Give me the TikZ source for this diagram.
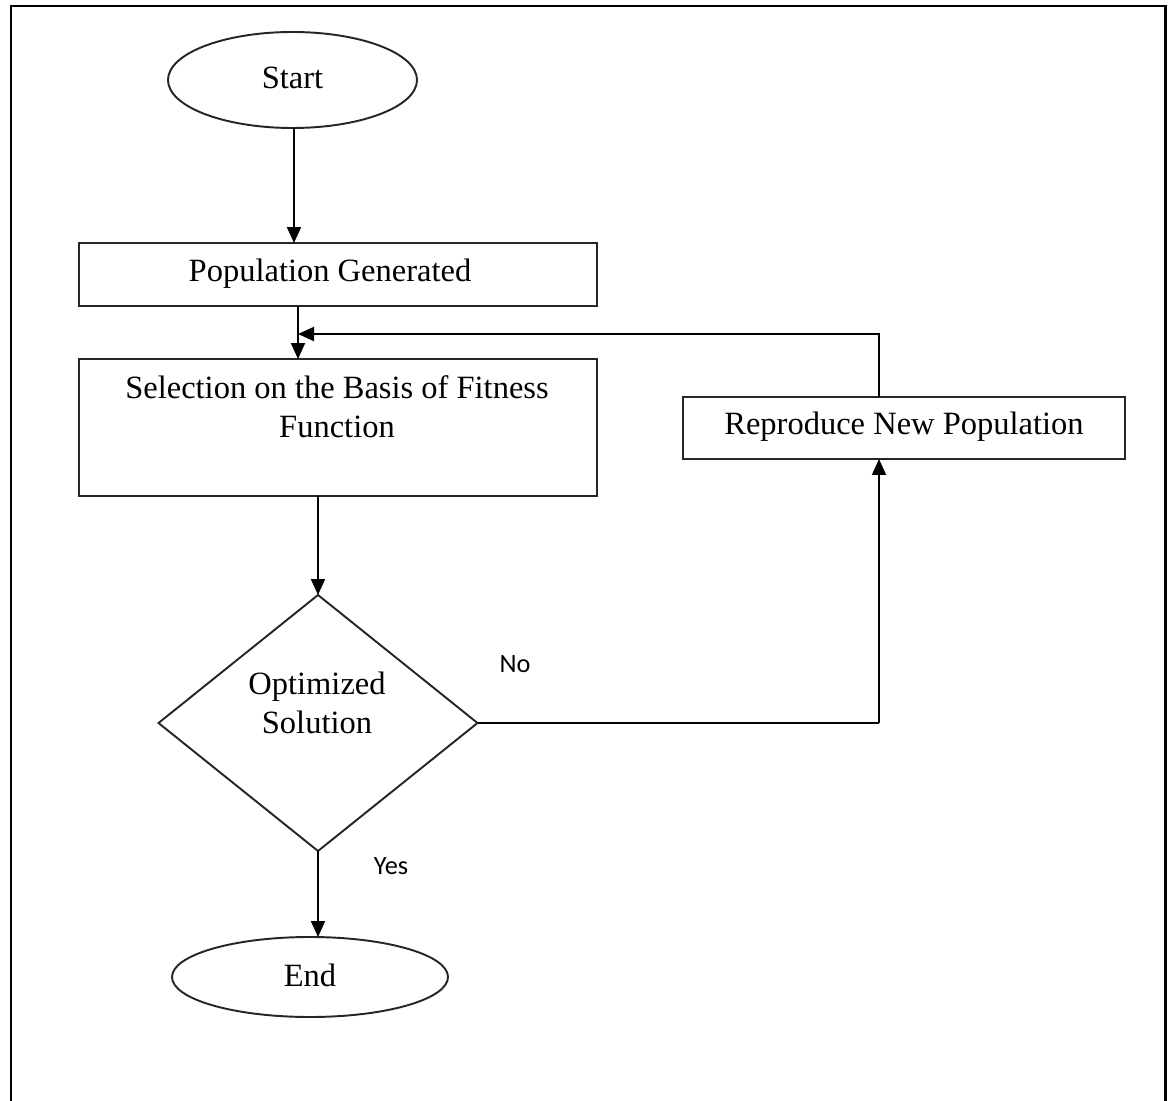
\documentclass[tikz,border=0pt]{standalone}
\usepackage{fontspec}
\setmainfont{Liberation Serif}
\newfontfamily\calib{Carlito}
\usetikzlibrary{shapes.geometric,arrows.meta,calc}
\begin{document}
\begin{tikzpicture}[x=0.02cm,y=-0.02cm,
  every node/.style={inner sep=0pt, outer sep=0pt},
  ln/.style={line width=1.1pt, draw=black!85},
  arr/.style={line width=1.1pt, draw=black, -{Triangle[length=0.32cm,width=0.28cm]}},
  boxst/.style={ln, rectangle},
  txt/.style={font=\fontsize{18.5pt}{22pt}\selectfont, align=center},
  lbl/.style={font=\calib\fontsize{15pt}{18pt}\selectfont}]
\useasboundingbox (0,0) rectangle (1173,1101);
\fill[white] (0,0) rectangle (1173,1101);
\draw[line width=1.7pt] (11,1120) -- (11,6) -- (1165,6) -- (1165,1120);
% nodes
\node[ellipse, ln, minimum width=249*0.02cm, minimum height=96*0.02cm] (start) at (292.5,80) {};
\node[txt] (starttxt) at (292.5,78) {Start};
\node[boxst, minimum width=518*0.02cm, minimum height=63*0.02cm] (pop) at (338,274.5) {};
\node[txt] (poptxt) at (330,274) {Population Generated};
\node[boxst, minimum width=518*0.02cm, minimum height=137*0.02cm] (sel) at (338,427.5) {};
\node[txt] (seltxt) at (337,407) {Selection on the Basis of Fitness\\Function};
\node[boxst, minimum width=442*0.02cm, minimum height=62*0.02cm] (rep) at (904,428) {};
\node[txt] (reptxt) at (904,427) {Reproduce New Population};
\node[diamond, ln, minimum width=319*0.02cm, minimum height=256*0.02cm, aspect=1.25] (dia) at (318,723) {};
\node[txt] (diatxt) at (317,703) {Optimized\\Solution};
\node[ellipse, ln, minimum width=276*0.02cm, minimum height=80*0.02cm] (end) at (310,977) {};
\node[txt] (endtxt) at (310,975) {End};
\node[lbl] (no) at (515,664) {No};
\node[lbl] (yes) at (391,866) {Yes};
% connectors
\draw[arr] (start.south -| 294,0) -- (pop.north -| 294,0);
\coordinate (pa) at (298,306);
\draw[arr] (pa) -- (sel.north -| pa);
\coordinate (fb) at (879,334);
\draw[arr] (rep.north -| fb) -- (fb) -- (fb -| pa);
\draw[arr] (sel.south -| dia.north) -- (dia.north);
\draw[ln, draw=black] (dia.east) -- (dia.east -| fb);
\draw[arr] (dia.east -| fb) -- (rep.south -| fb);
\draw[arr] (dia.south) -- (end.north -| dia.south);
\end{tikzpicture}
\end{document}
